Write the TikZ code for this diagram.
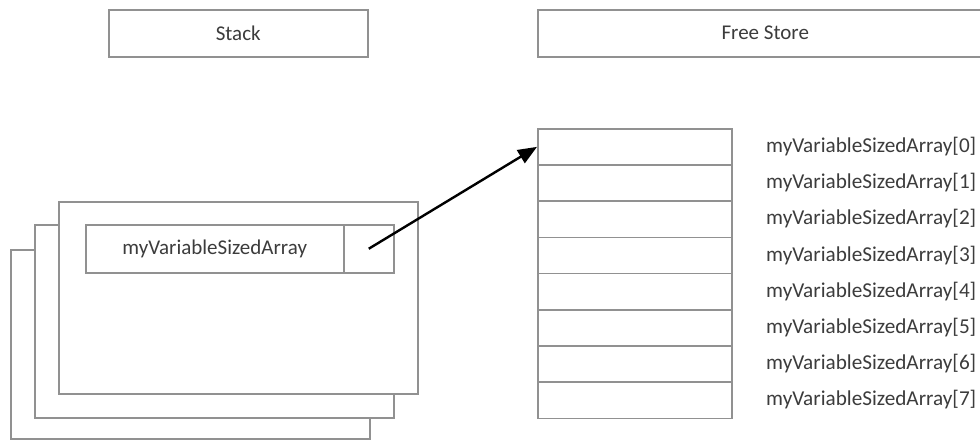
\documentclass[tikz,border=0pt]{standalone}
\usepackage{fontspec}
\setmainfont{Carlito}
\usetikzlibrary{arrows.meta}
\definecolor{linegray}{RGB}{145,145,145}
\definecolor{txtgray}{RGB}{60,60,60}
\begin{document}
\begin{tikzpicture}[x=1pt,y=-1pt,
  box/.style={draw=linegray, line width=1.5pt, fill=white, inner sep=0pt, anchor=north west,
    font=\fontsize{21}{25}\selectfont, text=txtgray},
  lbl/.style={anchor=west, inner sep=0pt, font=\fontsize{21.2}{25}\selectfont, text=txtgray},
  ptrarrow/.style={black, line width=2.4pt, -{Triangle[length=19pt,width=15pt]}}]
\useasboundingbox (0,0) rectangle (980,440);
\clip (0,0) rectangle (980,440);
\fill[white] (0,0) rectangle (980,440);
% headers
\node[box, minimum width=259pt, minimum height=47pt] (stack) at (108,9) {Stack};
\node[box, minimum width=455pt, minimum height=47pt] (free) at (537,9) {Free Store};
% stack frames (back to front)
\node[box, minimum width=359pt, minimum height=189pt] (frame3) at (10,249) {};
\node[box, minimum width=359pt, minimum height=193pt] (frame2) at (34,224) {};
\node[box, minimum width=359pt, minimum height=192pt] (frame1) at (58,201) {};
% variable
\node[box, minimum width=258pt, minimum height=48pt] (var) at (85,224) {myVariableSizedArray};
\node[box, minimum width=50pt, minimum height=48pt] (ptr) at (343,224) {};
% free store cells
\foreach \i in {0,...,7}{
  \node[box, minimum width=194pt, minimum height=36.2pt] (c\i) at (537,{128+36.2*\i}) {};
  \node[lbl] (l\i) at (766,{146.5+36.2*\i}) {myVariableSizedArray[\i]};
}
\draw[ptrarrow] (ptr.center) -- (c0.west);
\end{tikzpicture}
\end{document}
